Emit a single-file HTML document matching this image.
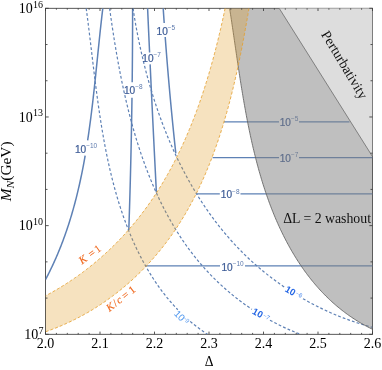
<!DOCTYPE html><html><head><meta charset="utf-8"><title>plot</title><style>html,body{margin:0;padding:0;background:#fff}svg{display:block}#w{width:382px;height:370px;will-change:transform;overflow:hidden}</style></head><body><div id="w"><svg width="382" height="370" viewBox="0 0 382 370">
<rect width="382" height="370" fill="#fff"/>
<clipPath id="c"><rect x="45.5" y="8.3" width="327.0" height="326.0"/></clipPath>
<rect x="45.5" y="8.3" width="327.0" height="326.0" fill="none" stroke="#3a3a3a" stroke-width="0.85"/>
<g clip-path="url(#c)">
<g fill="none" stroke="#5E81B5" stroke-width="1.5" stroke-linejoin="round">
<path d="M102.80,8.30 L102.65,9.55 L102.50,10.80 L102.35,12.06 L102.21,13.31 L102.06,14.56 L101.91,15.82 L101.77,17.08 L101.63,18.33 L101.49,19.59 L101.34,20.85 L101.20,22.10 L101.06,23.36 L100.92,24.62 L100.79,25.88 L100.65,27.14 L100.51,28.40 L100.37,29.66 L100.24,30.92 L100.10,32.19 L99.97,33.45 L99.84,34.71 L99.70,35.98 L99.57,37.24 L99.44,38.51 L99.30,39.77 L99.17,41.04 L99.04,42.30 L98.91,43.57 L98.78,44.83 L98.65,46.10 L98.52,47.37 L98.39,48.64 L98.26,49.90 L98.13,51.17 L98.00,52.44 L97.87,53.71 L97.74,54.98 L97.61,56.25 L97.48,57.52 L97.35,58.79 L97.22,60.06 L97.09,61.33 L96.96,62.60 L96.83,63.87 L96.70,65.14 L96.57,66.41 L96.44,67.69 L96.31,68.96 L96.18,70.23 L96.04,71.50 L95.91,72.77 L95.78,74.05 L95.65,75.32 L95.51,76.59 L95.38,77.86 L95.25,79.14 L95.11,80.41 L94.98,81.68 L94.84,82.96 L94.71,84.23 L94.57,85.50 L94.43,86.77 L94.29,88.05 L94.15,89.32 L94.01,90.59 L93.87,91.87 L93.73,93.14 L93.59,94.41 L93.45,95.69 L93.30,96.96 L93.16,98.23 L93.01,99.50 L92.87,100.78 L92.72,102.05 L92.57,103.32 L92.42,104.59 L92.27,105.87 L92.12,107.14 L91.96,108.41 L91.81,109.68 L91.65,110.95 L91.50,112.22 L91.34,113.49 L91.18,114.76 L91.02,116.03 L90.86,117.31 L90.69,118.58 L90.53,119.84 L90.36,121.11 L90.19,122.38 L90.02,123.65 L89.85,124.92 L89.68,126.19 L89.51,127.46 L89.33,128.72 L89.15,129.99 L88.97,131.26 L88.79,132.52 L88.61,133.79 L88.43,135.06 L88.24,136.32 L88.05,137.59 L87.86,138.85 L87.67,140.11 L87.64,140.30"/>
<path d="M85.15,155.60 L84.99,156.50 L84.77,157.76 L84.55,159.01 L84.32,160.27 L84.09,161.52 L83.86,162.77 L83.63,164.03 L83.40,165.28 L83.16,166.53 L82.92,167.78 L82.67,169.03 L82.43,170.28 L82.18,171.53 L81.93,172.78 L81.68,174.03 L81.42,175.28 L81.16,176.52 L80.90,177.77 L80.63,179.01 L80.37,180.26 L80.10,181.50 L79.82,182.74 L79.55,183.98 L79.27,185.22 L78.99,186.46 L78.70,187.70 L78.41,188.94 L78.12,190.18 L77.83,191.41 L77.53,192.65 L77.23,193.88 L76.93,195.11 L76.62,196.35 L76.31,197.58 L76.00,198.81 L75.68,200.04 L75.36,201.27 L75.04,202.49 L74.71,203.72 L74.38,204.95 L74.05,206.17 L73.71,207.39 L73.37,208.62 L73.03,209.84 L72.68,211.06 L72.33,212.28 L71.98,213.49 L71.62,214.71 L71.26,215.93 L70.89,217.14 L70.52,218.35 L70.15,219.57 L69.78,220.78 L69.40,221.99 L69.01,223.20 L68.62,224.40 L68.23,225.61 L67.84,226.82 L67.44,228.02 L67.03,229.22 L66.62,230.42 L66.21,231.62 L65.80,232.82 L65.38,234.02 L64.95,235.22 L64.52,236.41 L64.09,237.60 L63.66,238.80 L63.22,239.99 L62.77,241.18 L62.32,242.37 L61.87,243.55 L61.41,244.74 L60.95,245.92 L60.48,247.10 L60.01,248.29 L59.53,249.47 L59.05,250.64 L58.57,251.82 L58.08,253.00 L57.58,254.17 L57.09,255.34 L56.58,256.51 L56.08,257.68 L55.56,258.85 L55.05,260.02 L54.52,261.18 L54.00,262.34 L53.46,263.51 L52.93,264.67 L52.39,265.83 L51.84,266.98 L51.29,268.14 L50.73,269.29 L50.17,270.44 L49.61,271.59 L49.04,272.74 L48.46,273.89 L47.88,275.04 L47.29,276.18 L46.70,277.32 L46.10,278.46 L45.50,279.60"/>
<path d="M132.60,8.30 L132.60,9.31 L132.60,10.33 L132.60,11.34 L132.60,12.35 L132.60,13.36 L132.60,14.38 L132.60,15.39 L132.60,16.40 L132.59,17.41 L132.59,18.43 L132.59,19.44 L132.59,20.45 L132.59,21.46 L132.59,22.48 L132.58,23.49 L132.58,24.50 L132.58,25.51 L132.58,26.53 L132.57,27.54 L132.57,28.55 L132.57,29.56 L132.56,30.58 L132.56,31.59 L132.56,32.60 L132.55,33.61 L132.55,34.63 L132.54,35.64 L132.54,36.65 L132.54,37.66 L132.53,38.68 L132.53,39.69 L132.52,40.70 L132.52,41.71 L132.51,42.73 L132.50,43.74 L132.50,44.75 L132.49,45.76 L132.49,46.77 L132.48,47.79 L132.48,48.80 L132.47,49.81 L132.46,50.82 L132.46,51.84 L132.45,52.85 L132.44,53.86 L132.43,54.87 L132.43,55.89 L132.42,56.90 L132.41,57.91 L132.40,58.92 L132.40,59.94 L132.39,60.95 L132.38,61.96 L132.37,62.97 L132.36,63.99 L132.35,65.00 L132.35,66.01 L132.34,67.02 L132.33,68.04 L132.32,69.05 L132.31,70.06 L132.30,71.07 L132.29,72.09 L132.28,73.10 L132.27,74.11 L132.26,75.12 L132.25,76.14 L132.24,77.15 L132.23,78.16 L132.21,79.17 L132.20,80.19 L132.19,81.20 L132.18,82.21 L132.18,82.30"/>
<path d="M131.98,97.80 L131.98,98.41 L131.96,99.42 L131.95,100.43 L131.93,101.45 L131.92,102.46 L131.90,103.47 L131.89,104.48 L131.87,105.49 L131.86,106.51 L131.84,107.52 L131.83,108.53 L131.81,109.54 L131.80,110.56 L131.78,111.57 L131.76,112.58 L131.75,113.59 L131.73,114.61 L131.71,115.62 L131.70,116.63 L131.68,117.64 L131.66,118.65 L131.64,119.67 L131.63,120.68 L131.61,121.69 L131.59,122.70 L131.57,123.72 L131.56,124.73 L131.54,125.74 L131.52,126.75 L131.50,127.77 L131.48,128.78 L131.46,129.79 L131.44,130.80 L131.42,131.82 L131.40,132.83 L131.39,133.84 L131.37,134.85 L131.35,135.86 L131.33,136.88 L131.31,137.89 L131.28,138.90 L131.26,139.91 L131.24,140.93 L131.22,141.94 L131.20,142.95 L131.18,143.96 L131.16,144.97 L131.14,145.99 L131.12,147.00 L131.09,148.01 L131.07,149.02 L131.05,150.04 L131.03,151.05 L131.01,152.06 L130.98,153.07 L130.96,154.09 L130.94,155.10 L130.91,156.11 L130.89,157.12 L130.87,158.13 L130.84,159.15 L130.82,160.16 L130.80,161.17 L130.77,162.18 L130.75,163.20 L130.72,164.21 L130.70,165.22 L130.67,166.23 L130.65,167.24 L130.62,168.26 L130.60,169.27 L130.57,170.28 L130.55,171.29 L130.52,172.31 L130.50,173.32 L130.47,174.33 L130.45,175.34 L130.42,176.35 L130.39,177.37 L130.37,178.38 L130.34,179.39 L130.31,180.40 L130.29,181.42 L130.26,182.43 L130.23,183.44 L130.20,184.45 L130.18,185.46 L130.15,186.48 L130.12,187.49 L130.09,188.50 L130.06,189.51 L130.03,190.53 L130.01,191.54 L129.98,192.55 L129.95,193.56 L129.92,194.57 L129.89,195.59 L129.86,196.60 L129.83,197.61 L129.80,198.62 L129.77,199.64 L129.74,200.65 L129.71,201.66 L129.68,202.67 L129.65,203.68 L129.62,204.70 L129.59,205.71 L129.56,206.72 L129.53,207.73 L129.50,208.74 L129.46,209.76 L129.43,210.77 L129.40,211.78 L129.37,212.79 L129.34,213.81 L129.30,214.82 L129.27,215.83 L129.24,216.84 L129.21,217.85 L129.17,218.87 L129.14,219.88 L129.11,220.89 L129.07,221.90 L129.04,222.92 L129.01,223.93 L128.97,224.94 L128.94,225.95 L128.90,226.96 L128.87,227.98 L128.83,228.99 L128.80,230.00"/>
<path d="M147.60,8.30 L147.64,9.14 L147.67,9.98 L147.71,10.82 L147.75,11.66 L147.79,12.51 L147.82,13.35 L147.86,14.19 L147.90,15.03 L147.94,15.87 L147.97,16.71 L148.01,17.55 L148.05,18.39 L148.08,19.24 L148.12,20.08 L148.16,20.92 L148.20,21.76 L148.24,22.60 L148.27,23.44 L148.31,24.28 L148.35,25.12 L148.39,25.97 L148.42,26.81 L148.46,27.65 L148.50,28.49 L148.54,29.33 L148.57,30.17 L148.61,31.01 L148.65,31.85 L148.69,32.70 L148.73,33.54 L148.76,34.38 L148.80,35.22 L148.84,36.06 L148.88,36.90 L148.92,37.74 L148.95,38.58 L148.99,39.43 L149.03,40.27 L149.07,41.11 L149.11,41.95 L149.15,42.79 L149.18,43.63 L149.22,44.47 L149.26,45.31 L149.30,46.15 L149.34,47.00 L149.38,47.84 L149.41,48.68 L149.45,49.52 L149.49,50.36 L149.53,51.20 L149.57,52.04 L149.59,52.50"/>
<path d="M150.14,64.40 L150.15,64.66 L150.19,65.50 L150.23,66.34 L150.27,67.18 L150.31,68.02 L150.35,68.87 L150.38,69.71 L150.42,70.55 L150.46,71.39 L150.50,72.23 L150.54,73.07 L150.58,73.91 L150.62,74.75 L150.66,75.60 L150.70,76.44 L150.74,77.28 L150.78,78.12 L150.82,78.96 L150.86,79.80 L150.90,80.64 L150.94,81.48 L150.97,82.32 L151.01,83.17 L151.05,84.01 L151.09,84.85 L151.13,85.69 L151.17,86.53 L151.21,87.37 L151.25,88.21 L151.29,89.05 L151.33,89.89 L151.37,90.74 L151.41,91.58 L151.45,92.42 L151.49,93.26 L151.53,94.10 L151.57,94.94 L151.61,95.78 L151.65,96.62 L151.69,97.46 L151.73,98.31 L151.77,99.15 L151.81,99.99 L151.85,100.83 L151.89,101.67 L151.93,102.51 L151.97,103.35 L152.01,104.19 L152.05,105.03 L152.09,105.88 L152.13,106.72 L152.17,107.56 L152.22,108.40 L152.26,109.24 L152.30,110.08 L152.34,110.92 L152.38,111.76 L152.42,112.60 L152.46,113.45 L152.50,114.29 L152.54,115.13 L152.58,115.97 L152.62,116.81 L152.66,117.65 L152.70,118.49 L152.74,119.33 L152.78,120.17 L152.83,121.01 L152.87,121.86 L152.91,122.70 L152.95,123.54 L152.99,124.38 L153.03,125.22 L153.07,126.06 L153.11,126.90 L153.15,127.74 L153.19,128.58 L153.24,129.43 L153.28,130.27 L153.32,131.11 L153.36,131.95 L153.40,132.79 L153.44,133.63 L153.48,134.47 L153.52,135.31 L153.57,136.15 L153.61,136.99 L153.65,137.84 L153.69,138.68 L153.73,139.52 L153.77,140.36 L153.81,141.20 L153.86,142.04 L153.90,142.88 L153.94,143.72 L153.98,144.56 L154.02,145.40 L154.06,146.25 L154.11,147.09 L154.15,147.93 L154.19,148.77 L154.23,149.61 L154.27,150.45 L154.31,151.29 L154.36,152.13 L154.40,152.97 L154.44,153.82 L154.48,154.66 L154.52,155.50 L154.57,156.34 L154.61,157.18 L154.65,158.02 L154.69,158.86 L154.73,159.70 L154.78,160.54 L154.82,161.38 L154.86,162.23 L154.90,163.07 L154.95,163.91 L154.99,164.75 L155.03,165.59 L155.07,166.43 L155.12,167.27 L155.16,168.11 L155.20,168.95 L155.24,169.79 L155.29,170.63 L155.33,171.48 L155.37,172.32 L155.41,173.16 L155.46,174.00 L155.50,174.84 L155.54,175.68 L155.58,176.52 L155.63,177.36 L155.67,178.20 L155.71,179.04 L155.75,179.89 L155.80,180.73 L155.84,181.57 L155.88,182.41 L155.93,183.25 L155.97,184.09 L156.01,184.93 L156.05,185.77 L156.10,186.61 L156.14,187.45 L156.18,188.30 L156.23,189.14 L156.27,189.98 L156.31,190.82 L156.36,191.66 L156.40,192.50"/>
<path d="M163.20,8.30 L163.24,8.96 L163.29,9.63 L163.33,10.29 L163.38,10.95 L163.42,11.62 L163.46,12.28 L163.51,12.94 L163.55,13.61 L163.60,14.27 L163.64,14.93 L163.69,15.59 L163.73,16.26 L163.78,16.92 L163.82,17.58 L163.87,18.25 L163.91,18.91 L163.96,19.57 L164.01,20.24 L164.05,20.90 L164.10,21.56 L164.14,22.23 L164.19,22.89 L164.20,23.00"/>
<path d="M165.21,37.00 L165.24,37.47 L165.29,38.13 L165.34,38.80 L165.39,39.46 L165.44,40.12 L165.49,40.79 L165.54,41.45 L165.59,42.11 L165.64,42.77 L165.69,43.44 L165.74,44.10 L165.79,44.76 L165.84,45.42 L165.89,46.09 L165.94,46.75 L165.99,47.41 L166.04,48.07 L166.10,48.74 L166.15,49.40 L166.20,50.06 L166.25,50.72 L166.30,51.39 L166.35,52.05 L166.41,52.71 L166.46,53.38 L166.51,54.04 L166.56,54.70 L166.62,55.36 L166.67,56.03 L166.72,56.69 L166.77,57.35 L166.83,58.01 L166.88,58.67 L166.93,59.34 L166.99,60.00 L167.04,60.66 L167.09,61.32 L167.15,61.99 L167.20,62.65 L167.26,63.31 L167.31,63.97 L167.37,64.64 L167.42,65.30 L167.47,65.96 L167.53,66.62 L167.58,67.29 L167.64,67.95 L167.69,68.61 L167.75,69.27 L167.80,69.93 L167.86,70.60 L167.92,71.26 L167.97,71.92 L168.03,72.58 L168.08,73.25 L168.14,73.91 L168.20,74.57 L168.25,75.23 L168.31,75.89 L168.37,76.56 L168.42,77.22 L168.48,77.88 L168.54,78.54 L168.59,79.21 L168.65,79.87 L168.71,80.53 L168.77,81.19 L168.82,81.85 L168.88,82.52 L168.94,83.18 L169.00,83.84 L169.06,84.50 L169.11,85.16 L169.17,85.83 L169.23,86.49 L169.29,87.15 L169.35,87.81 L169.41,88.47 L169.47,89.14 L169.53,89.80 L169.58,90.46 L169.64,91.12 L169.70,91.78 L169.76,92.45 L169.82,93.11 L169.88,93.77 L169.94,94.43 L170.00,95.09 L170.06,95.76 L170.12,96.42 L170.18,97.08 L170.25,97.74 L170.31,98.40 L170.37,99.06 L170.43,99.73 L170.49,100.39 L170.55,101.05 L170.61,101.71 L170.67,102.37 L170.74,103.04 L170.80,103.70 L170.86,104.36 L170.92,105.02 L170.98,105.68 L171.05,106.34 L171.11,107.01 L171.17,107.67 L171.23,108.33 L171.30,108.99 L171.36,109.65 L171.42,110.31 L171.49,110.98 L171.55,111.64 L171.61,112.30 L171.68,112.96 L171.74,113.62 L171.80,114.28 L171.87,114.95 L171.93,115.61 L172.00,116.27 L172.06,116.93 L172.13,117.59 L172.19,118.25 L172.26,118.91 L172.32,119.58 L172.39,120.24 L172.45,120.90 L172.52,121.56 L172.58,122.22 L172.65,122.88 L172.71,123.55 L172.78,124.21 L172.84,124.87 L172.91,125.53 L172.98,126.19 L173.04,126.85 L173.11,127.51 L173.18,128.18 L173.24,128.84 L173.31,129.50 L173.38,130.16 L173.44,130.82 L173.51,131.48 L173.58,132.14 L173.65,132.80 L173.71,133.47 L173.78,134.13 L173.85,134.79 L173.92,135.45 L173.98,136.11 L174.05,136.77 L174.12,137.43 L174.19,138.09 L174.26,138.76 L174.33,139.42 L174.40,140.08 L174.46,140.74 L174.53,141.40 L174.60,142.06 L174.67,142.72 L174.74,143.38 L174.81,144.05 L174.88,144.71 L174.95,145.37 L175.02,146.03 L175.09,146.69 L175.16,147.35 L175.23,148.01 L175.30,148.67 L175.37,149.33 L175.44,149.99 L175.52,150.66 L175.59,151.32 L175.66,151.98 L175.73,152.64 L175.80,153.30"/>
</g>
<g fill="none" stroke="#5E81B5" stroke-width="1.15">
<path d="M223.9,121.8H279 M299,121.8H349.5"/>
<path d="M212.6,157.6H279 M299,157.6H372.5"/>
<path d="M196.6,193.9H219.8 M240.5,193.9H372.5"/>
<path d="M145,265.8H220 M245,265.8H372.5"/>
</g>
<g fill="none" stroke="#5E81B5" stroke-width="1.2" stroke-dasharray="2.8,2.1">
<path d="M86.20,8.30 L86.41,9.88 L86.62,11.46 L86.83,13.05 L87.04,14.63 L87.24,16.22 L87.45,17.81 L87.65,19.41 L87.86,21.00 L88.06,22.60 L88.26,24.20 L88.46,25.80 L88.65,27.40 L88.85,29.01 L89.05,30.61 L89.25,32.22 L89.44,33.83 L89.64,35.44 L89.83,37.05 L90.03,38.67 L90.22,40.28 L90.41,41.90 L90.61,43.52 L90.80,45.14 L90.99,46.76 L91.19,48.38 L91.38,50.01 L91.57,51.63 L91.77,53.26 L91.96,54.89 L92.15,56.51 L92.35,58.14 L92.54,59.77 L92.74,61.41 L92.93,63.04 L93.13,64.67 L93.32,66.31 L93.52,67.94 L93.72,69.58 L93.92,71.22 L94.12,72.85 L94.32,74.49 L94.52,76.13 L94.73,77.77 L94.93,79.41 L95.14,81.05 L95.34,82.69 L95.55,84.34 L95.76,85.98 L95.97,87.62 L96.19,89.26 L96.40,90.91 L96.62,92.55 L96.83,94.19 L97.05,95.84 L97.28,97.48 L97.50,99.12 L97.73,100.77 L97.95,102.41 L98.18,104.06 L98.41,105.70 L98.65,107.34 L98.89,108.99 L99.13,110.63 L99.37,112.27 L99.61,113.92 L99.86,115.56 L100.11,117.20 L100.36,118.84 L100.61,120.48 L100.87,122.12 L101.13,123.77 L101.40,125.41 L101.66,127.04 L101.93,128.68 L102.21,130.32 L102.48,131.96 L102.76,133.60 L103.05,135.23 L103.33,136.87 L103.62,138.50 L103.92,140.13 L104.21,141.77 L104.51,143.40 L104.82,145.03 L105.13,146.66 L105.44,148.28 L105.76,149.91 L106.08,151.54 L106.40,153.16 L106.73,154.78 L107.06,156.41 L107.40,158.03 L107.74,159.65 L108.09,161.26 L108.44,162.88 L108.79,164.50 L109.15,166.11 L109.51,167.72 L109.88,169.33 L110.26,170.94 L110.63,172.55 L111.02,174.15 L111.41,175.75 L111.80,177.36 L112.20,178.96 L112.60,180.55 L113.01,182.15 L113.43,183.74 L113.84,185.33 L114.27,186.92 L114.70,188.51 L115.14,190.10 L115.58,191.68 L116.03,193.26 L116.48,194.84 L116.94,196.42 L117.40,197.99 L117.87,199.56 L118.35,201.13 L118.83,202.70 L119.32,204.26 L119.82,205.83 L120.32,207.39 L120.83,208.94 L121.34,210.50 L121.86,212.05 L122.39,213.60 L122.92,215.14 L123.46,216.69 L124.01,218.23 L124.57,219.76 L125.13,221.30 L125.70,222.83 L126.27,224.36 L126.85,225.88 L127.44,227.41 L128.04,228.93 L128.64,230.44 L129.25,231.96 L129.87,233.47 L130.50,234.97 L131.13,236.47 L131.77,237.97 L132.42,239.47 L133.07,240.96 L133.74,242.45 L134.41,243.94 L135.09,245.42 L135.78,246.90 L136.47,248.38 L137.17,249.85 L137.89,251.31 L138.61,252.78 L139.33,254.24 L140.07,255.69 L140.82,257.14 L141.57,258.59 L142.33,260.03 L143.10,261.47 L143.88,262.90 L144.67,264.33 L145.46,265.75 L146.27,267.17 L147.08,268.58 L147.91,269.98 L148.74,271.39 L149.58,272.78 L150.43,274.17 L151.29,275.55 L152.16,276.93 L153.04,278.30 L153.93,279.66 L154.83,281.02 L155.73,282.37 L156.65,283.72 L157.58,285.05 L158.51,286.38 L159.46,287.71 L160.42,289.02 L161.38,290.33 L162.36,291.63 L163.34,292.93 L164.34,294.21 L165.35,295.49 L166.36,296.76 L167.39,298.03 L168.43,299.28 L169.47,300.52 L170.53,301.76 L171.60,302.99 L172.68,304.21 L173.77,305.42 L174.87,306.62 L175.98,307.81 L177.11,309.00 L177.80,309.71"/>
<path d="M190.20,321.37 L191.46,322.43 L192.73,323.48 L194.01,324.52 L195.30,325.55 L196.61,326.57 L197.93,327.58 L199.26,328.58 L200.60,329.56 L201.96,330.53 L203.32,331.49 L204.70,332.44 L206.10,333.38 L207.50,334.30"/>
<path d="M109.60,8.30 L109.84,10.04 L110.08,11.78 L110.33,13.53 L110.58,15.28 L110.83,17.03 L111.08,18.78 L111.33,20.54 L111.59,22.29 L111.85,24.06 L112.11,25.82 L112.37,27.58 L112.64,29.35 L112.91,31.12 L113.18,32.90 L113.46,34.67 L113.74,36.45 L114.02,38.22 L114.30,40.01 L114.59,41.79 L114.88,43.57 L115.18,45.36 L115.47,47.14 L115.77,48.93 L116.08,50.72 L116.39,52.51 L116.70,54.30 L117.01,56.10 L117.33,57.89 L117.65,59.68 L117.97,61.48 L118.30,63.28 L118.63,65.08 L118.97,66.87 L119.31,68.67 L119.65,70.47 L120.00,72.27 L120.35,74.07 L120.71,75.88 L121.07,77.68 L121.44,79.48 L121.80,81.28 L122.18,83.08 L122.55,84.88 L122.94,86.68 L123.32,88.49 L123.71,90.29 L124.11,92.09 L124.51,93.89 L124.91,95.69 L125.32,97.49 L125.74,99.29 L126.15,101.09 L126.58,102.88 L127.01,104.68 L127.44,106.48 L127.88,108.27 L128.32,110.06 L128.77,111.86 L129.23,113.65 L129.69,115.44 L130.15,117.23 L130.62,119.02 L131.10,120.80 L131.58,122.59 L132.06,124.37 L132.55,126.15 L133.05,127.93 L133.56,129.71 L134.07,131.48 L134.58,133.26 L135.10,135.03 L135.63,136.80 L136.16,138.56 L136.70,140.33 L137.24,142.09 L137.79,143.85 L138.35,145.61 L138.91,147.37 L139.48,149.12 L140.06,150.87 L140.64,152.62 L141.23,154.36 L141.83,156.10 L142.43,157.84 L143.04,159.57 L143.65,161.31 L144.27,163.04 L144.90,164.76 L145.54,166.48 L146.18,168.20 L146.83,169.92 L147.48,171.63 L148.15,173.34 L148.82,175.04 L149.49,176.74 L150.18,178.44 L150.87,180.13 L151.57,181.82 L152.27,183.50 L152.99,185.18 L153.71,186.86 L154.44,188.53 L155.17,190.20 L155.92,191.86 L156.67,193.52 L157.43,195.17 L158.19,196.82 L158.97,198.47 L159.75,200.11 L160.54,201.74 L161.34,203.37 L162.15,204.99 L162.96,206.61 L163.78,208.23 L164.61,209.84 L165.45,211.44 L166.30,213.04 L167.16,214.63 L168.02,216.22 L168.89,217.80 L169.77,219.37 L170.66,220.94 L171.56,222.51 L172.47,224.07 L173.39,225.62 L174.31,227.16 L175.24,228.70 L176.19,230.24 L177.14,231.77 L178.10,233.29 L179.07,234.80 L180.04,236.31 L181.03,237.81 L182.03,239.31 L183.04,240.79 L184.05,242.28 L185.08,243.75 L186.11,245.22 L187.15,246.68 L188.21,248.13 L189.27,249.58 L190.34,251.02 L191.42,252.45 L192.52,253.87 L193.62,255.29 L194.73,256.70 L195.85,258.10 L196.98,259.49 L198.12,260.88 L199.27,262.26 L200.44,263.63 L201.61,264.99 L202.79,266.35 L203.98,267.69 L205.18,269.03 L206.40,270.36 L207.62,271.68 L208.85,273.00 L210.09,274.30 L211.35,275.60 L212.61,276.88 L213.88,278.16 L215.16,279.43 L216.45,280.69 L217.75,281.95 L219.06,283.19 L220.38,284.42 L221.71,285.65 L223.05,286.86 L224.40,288.07 L225.76,289.27 L227.12,290.46 L228.50,291.63 L229.88,292.80 L231.27,293.96 L232.68,295.11 L234.09,296.25 L235.51,297.38 L236.93,298.50 L238.37,299.61 L239.82,300.71 L241.27,301.80 L242.73,302.88 L244.20,303.95 L245.68,305.01 L247.17,306.05 L248.67,307.09 L250.17,308.12 L251.68,309.14 L252.00,309.35"/>
<path d="M270.00,320.23 L270.43,320.47 L272.04,321.34 L273.66,322.20 L275.29,323.05 L276.92,323.89 L278.56,324.71 L280.21,325.52 L281.86,326.32 L283.53,327.11 L285.19,327.88 L286.87,328.65 L288.55,329.40 L290.24,330.14 L291.93,330.86 L293.63,331.57 L295.34,332.27 L297.05,332.96 L298.77,333.64 L300.50,334.30"/>
<path d="M133.00,8.30 L133.29,10.18 L133.59,12.07 L133.89,13.96 L134.20,15.84 L134.51,17.73 L134.83,19.62 L135.16,21.51 L135.49,23.40 L135.83,25.29 L136.17,27.18 L136.52,29.08 L136.88,30.97 L137.24,32.86 L137.60,34.75 L137.98,36.65 L138.36,38.54 L138.74,40.43 L139.13,42.32 L139.53,44.22 L139.93,46.11 L140.34,48.00 L140.76,49.89 L141.18,51.78 L141.61,53.68 L142.05,55.57 L142.49,57.46 L142.93,59.34 L143.39,61.23 L143.85,63.12 L144.32,65.01 L144.79,66.89 L145.27,68.78 L145.75,70.66 L146.25,72.54 L146.75,74.43 L147.25,76.30 L147.77,78.18 L148.29,80.06 L148.81,81.94 L149.34,83.81 L149.88,85.68 L150.43,87.55 L150.98,89.42 L151.54,91.29 L152.11,93.15 L152.68,95.02 L153.27,96.88 L153.85,98.74 L154.45,100.59 L155.05,102.45 L155.66,104.30 L156.27,106.15 L156.90,108.00 L157.53,109.84 L158.16,111.69 L158.81,113.52 L159.46,115.36 L160.12,117.20 L160.79,119.03 L161.46,120.86 L162.14,122.68 L162.83,124.50 L163.52,126.32 L164.23,128.14 L164.94,129.95 L165.66,131.76 L166.38,133.56 L167.11,135.37 L167.85,137.16 L168.60,138.96 L169.36,140.75 L170.12,142.54 L170.89,144.32 L171.67,146.10 L172.46,147.88 L173.25,149.65 L174.05,151.42 L174.86,153.18 L175.68,154.94 L176.51,156.70 L177.34,158.45 L178.18,160.19 L179.03,161.93 L179.89,163.67 L180.75,165.40 L181.63,167.13 L182.51,168.85 L183.40,170.57 L184.29,172.28 L185.20,173.99 L186.11,175.69 L187.04,177.39 L187.97,179.09 L188.91,180.77 L189.85,182.45 L190.81,184.13 L191.77,185.80 L192.74,187.47 L193.72,189.13 L194.71,190.78 L195.71,192.43 L196.72,194.07 L197.73,195.71 L198.75,197.34 L199.79,198.97 L200.83,200.58 L201.87,202.20 L202.93,203.80 L204.00,205.40 L205.07,207.00 L206.16,208.58 L207.25,210.16 L208.35,211.74 L209.46,213.31 L210.58,214.87 L211.71,216.42 L212.84,217.97 L213.99,219.51 L215.14,221.04 L216.31,222.57 L217.48,224.09 L218.66,225.60 L219.85,227.10 L221.05,228.60 L222.26,230.09 L223.48,231.57 L224.71,233.05 L225.94,234.51 L227.19,235.97 L228.45,237.43 L229.71,238.87 L230.98,240.31 L232.27,241.73 L233.56,243.15 L234.86,244.57 L236.17,245.97 L237.49,247.37 L238.83,248.75 L240.17,250.13 L241.52,251.50 L242.87,252.86 L244.24,254.22 L245.62,255.56 L247.01,256.90 L248.41,258.23 L249.82,259.55 L251.23,260.86 L252.66,262.16 L254.10,263.45 L255.55,264.73 L257.00,266.00 L258.47,267.27 L259.94,268.52 L261.42,269.77 L262.92,271.00 L264.42,272.23 L265.93,273.45 L267.45,274.65 L268.97,275.85 L270.51,277.04 L272.05,278.22 L273.61,279.38 L275.17,280.54 L276.74,281.69 L278.31,282.83 L279.90,283.96 L281.49,285.07 L283.09,286.18 L284.70,287.28 L285.00,287.48"/>
<path d="M303.00,298.71 L304.54,299.60 L306.24,300.55 L307.94,301.49 L309.65,302.43 L311.37,303.35 L313.09,304.25 L314.82,305.15 L316.55,306.04 L318.29,306.91 L320.03,307.77 L321.78,308.62 L323.53,309.46 L325.29,310.29 L327.06,311.10 L328.82,311.90 L330.60,312.69 L332.38,313.47 L334.16,314.23 L335.95,314.98 L337.74,315.72 L339.54,316.45 L341.34,317.16 L343.14,317.87 L344.95,318.55 L346.76,319.23 L348.58,319.89 L350.40,320.54 L352.23,321.18 L354.05,321.80 L355.88,322.41 L357.72,323.01 L359.56,323.59 L361.40,324.16 L363.24,324.72 L365.09,325.26 L366.94,325.79 L368.79,326.31 L370.64,326.81 L372.50,327.30"/>
</g>
<text transform="translate(86.1,152.8) rotate(0)" font-family="Liberation Sans, sans-serif" font-size="10.1" font-weight="normal" text-anchor="middle" fill="#3F5D97" fill-opacity="1" stroke="#3F5D97" stroke-width="0.22">10<tspan font-size="6.5" dy="-4.5" font-weight="normal" stroke="none" fill="#5C79AD">−10</tspan></text>
<text transform="translate(133.3,93.6) rotate(0)" font-family="Liberation Sans, sans-serif" font-size="10.1" font-weight="normal" text-anchor="middle" fill="#3F5D97" fill-opacity="1" stroke="#3F5D97" stroke-width="0.22">10<tspan font-size="6.5" dy="-4.5" font-weight="normal" stroke="none" fill="#5C79AD">−8</tspan></text>
<text transform="translate(151.6,61.5) rotate(0)" font-family="Liberation Sans, sans-serif" font-size="10.1" font-weight="normal" text-anchor="middle" fill="#3F5D97" fill-opacity="1" stroke="#3F5D97" stroke-width="0.22">10<tspan font-size="6.5" dy="-4.5" font-weight="normal" stroke="none" fill="#5C79AD">−7</tspan></text>
<text transform="translate(165.9,34.8) rotate(0)" font-family="Liberation Sans, sans-serif" font-size="10.1" font-weight="normal" text-anchor="middle" fill="#3F5D97" fill-opacity="1" stroke="#3F5D97" stroke-width="0.22">10<tspan font-size="6.5" dy="-4.5" font-weight="normal" stroke="none" fill="#5C79AD">−5</tspan></text>
<text transform="translate(289,125.6) rotate(0)" font-family="Liberation Sans, sans-serif" font-size="10.1" font-weight="normal" text-anchor="middle" fill="#3F5D97" fill-opacity="1" stroke="#3F5D97" stroke-width="0.22">10<tspan font-size="6.5" dy="-4.5" font-weight="normal" stroke="none" fill="#5C79AD">−5</tspan></text>
<text transform="translate(289,161.6) rotate(0)" font-family="Liberation Sans, sans-serif" font-size="10.1" font-weight="normal" text-anchor="middle" fill="#3F5D97" fill-opacity="1" stroke="#3F5D97" stroke-width="0.22">10<tspan font-size="6.5" dy="-4.5" font-weight="normal" stroke="none" fill="#5C79AD">−7</tspan></text>
<text transform="translate(230.2,198.4) rotate(0)" font-family="Liberation Sans, sans-serif" font-size="10.1" font-weight="normal" text-anchor="middle" fill="#3F5D97" fill-opacity="1" stroke="#3F5D97" stroke-width="0.22">10<tspan font-size="6.5" dy="-4.5" font-weight="normal" stroke="none" fill="#5C79AD">−8</tspan></text>
<text transform="translate(232.6,270.5) rotate(0)" font-family="Liberation Sans, sans-serif" font-size="10.1" font-weight="normal" text-anchor="middle" fill="#3F5D97" fill-opacity="1" stroke="#3F5D97" stroke-width="0.22">10<tspan font-size="6.5" dy="-4.5" font-weight="normal" stroke="none" fill="#5C79AD">−10</tspan></text>
<g transform="translate(290.4,290.6) rotate(30)" font-family="Liberation Sans, sans-serif" text-anchor="middle"><text x="0" y="3.37" font-size="9.4" font-weight="bold" fill="#2466E4" stroke="#2466E4" stroke-width="0">10</text><text x="9.4" y="1.05" font-size="6.0" fill="#4585EC">−6</text></g>
<g transform="translate(257.8,312.9) rotate(29)" font-family="Liberation Sans, sans-serif" text-anchor="middle"><text x="0" y="3.37" font-size="9.4" font-weight="bold" fill="#2466E4" stroke="#2466E4" stroke-width="0">10</text><text x="9.4" y="1.05" font-size="6.0" fill="#4585EC">−7</text></g>
<g transform="translate(179.6,315.6) rotate(45)" font-family="Liberation Sans, sans-serif" text-anchor="middle"><text x="0" y="3.44" font-size="9.6" font-weight="normal" fill="#4F97EE" stroke="#4F97EE" stroke-width="0">10</text><text x="7.4" y="0.15" font-size="6" fill="#5B9BEE">−9</text></g>
<path d="M229.60,8.30 L229.85,9.89 L230.09,11.47 L230.34,13.06 L230.58,14.66 L230.83,16.26 L231.07,17.86 L231.31,19.46 L231.55,21.07 L231.79,22.67 L232.03,24.29 L232.27,25.90 L232.51,27.52 L232.75,29.13 L232.99,30.76 L233.22,32.38 L233.46,34.01 L233.70,35.64 L233.94,37.27 L234.18,38.90 L234.41,40.53 L234.65,42.17 L234.89,43.81 L235.13,45.45 L235.37,47.09 L235.61,48.74 L235.85,50.39 L236.09,52.03 L236.33,53.68 L236.57,55.34 L236.82,56.99 L237.06,58.64 L237.31,60.30 L237.55,61.96 L237.80,63.62 L238.05,65.28 L238.30,66.94 L238.55,68.60 L238.80,70.26 L239.05,71.93 L239.31,73.59 L239.56,75.26 L239.82,76.93 L240.08,78.60 L240.34,80.27 L240.60,81.94 L240.87,83.61 L241.13,85.28 L241.40,86.95 L241.67,88.62 L241.95,90.29 L242.22,91.97 L242.50,93.64 L242.78,95.31 L243.06,96.99 L243.34,98.66 L243.63,100.34 L243.92,102.01 L244.21,103.68 L244.51,105.36 L244.80,107.03 L245.11,108.71 L245.41,110.38 L245.71,112.05 L246.02,113.72 L246.34,115.40 L246.65,117.07 L246.97,118.74 L247.29,120.41 L247.62,122.08 L247.95,123.75 L248.28,125.42 L248.62,127.09 L248.95,128.75 L249.30,130.42 L249.65,132.09 L250.00,133.75 L250.35,135.41 L250.71,137.08 L251.07,138.74 L251.44,140.40 L251.81,142.05 L252.19,143.71 L252.56,145.37 L252.95,147.02 L253.34,148.67 L253.73,150.32 L254.13,151.97 L254.53,153.62 L254.94,155.27 L255.35,156.91 L255.76,158.55 L256.18,160.19 L256.61,161.83 L257.04,163.47 L257.48,165.10 L257.92,166.73 L258.37,168.36 L258.82,169.99 L259.27,171.61 L259.74,173.24 L260.21,174.86 L260.68,176.48 L261.16,178.09 L261.64,179.70 L262.13,181.31 L262.63,182.92 L263.13,184.52 L263.64,186.13 L264.16,187.73 L264.68,189.32 L265.20,190.91 L265.73,192.50 L266.27,194.09 L266.82,195.67 L267.37,197.25 L267.93,198.83 L268.49,200.41 L269.07,201.98 L269.64,203.54 L270.23,205.11 L270.82,206.67 L271.42,208.22 L272.02,209.77 L272.64,211.32 L273.26,212.87 L273.88,214.41 L274.52,215.95 L275.16,217.48 L275.81,219.01 L276.46,220.53 L277.13,222.06 L277.80,223.57 L278.47,225.09 L279.16,226.59 L279.85,228.10 L280.56,229.60 L281.27,231.09 L281.98,232.58 L282.71,234.07 L283.44,235.55 L284.18,237.03 L284.93,238.50 L285.69,239.97 L286.46,241.43 L287.23,242.89 L288.02,244.34 L288.81,245.79 L289.61,247.23 L290.42,248.67 L291.23,250.10 L292.06,251.53 L292.90,252.95 L293.74,254.37 L294.59,255.78 L295.46,257.18 L296.33,258.58 L297.21,259.97 L298.10,261.36 L299.00,262.74 L299.91,264.11 L300.82,265.48 L301.75,266.84 L302.69,268.19 L303.64,269.54 L304.59,270.88 L305.56,272.21 L306.53,273.54 L307.52,274.85 L308.52,276.16 L309.52,277.47 L310.54,278.76 L311.57,280.05 L312.60,281.33 L313.65,282.60 L314.71,283.86 L315.77,285.11 L316.85,286.36 L317.94,287.60 L319.04,288.82 L320.15,290.04 L321.27,291.25 L322.40,292.45 L323.55,293.64 L324.70,294.83 L325.86,296.00 L327.04,297.16 L328.23,298.31 L329.42,299.46 L330.63,300.59 L331.85,301.71 L333.09,302.83 L334.33,303.93 L335.59,305.02 L336.85,306.10 L338.13,307.17 L339.42,308.23 L340.72,309.28 L342.04,310.32 L343.36,311.34 L344.70,312.36 L346.05,313.36 L347.42,314.35 L348.79,315.33 L350.18,316.30 L351.58,317.25 L352.99,318.20 L354.41,319.13 L355.85,320.05 L357.30,320.95 L358.76,321.85 L360.23,322.73 L361.72,323.60 L363.22,324.45 L364.74,325.29 L366.26,326.12 L367.80,326.94 L369.36,327.74 L370.92,328.53 L372.50,329.30 L372.50,8.30Z" fill="#808080" fill-opacity="0.5"/>
<path d="M229.60,8.30 L229.85,9.89 L230.09,11.47 L230.34,13.06 L230.58,14.66 L230.83,16.26 L231.07,17.86 L231.31,19.46 L231.55,21.07 L231.79,22.67 L232.03,24.29 L232.27,25.90 L232.51,27.52 L232.75,29.13 L232.99,30.76 L233.22,32.38 L233.46,34.01 L233.70,35.64 L233.94,37.27 L234.18,38.90 L234.41,40.53 L234.65,42.17 L234.89,43.81 L235.13,45.45 L235.37,47.09 L235.61,48.74 L235.85,50.39 L236.09,52.03 L236.33,53.68 L236.57,55.34 L236.82,56.99 L237.06,58.64 L237.31,60.30 L237.55,61.96 L237.80,63.62 L238.05,65.28 L238.30,66.94 L238.55,68.60 L238.80,70.26 L239.05,71.93 L239.31,73.59 L239.56,75.26 L239.82,76.93 L240.08,78.60 L240.34,80.27 L240.60,81.94 L240.87,83.61 L241.13,85.28 L241.40,86.95 L241.67,88.62 L241.95,90.29 L242.22,91.97 L242.50,93.64 L242.78,95.31 L243.06,96.99 L243.34,98.66 L243.63,100.34 L243.92,102.01 L244.21,103.68 L244.51,105.36 L244.80,107.03 L245.11,108.71 L245.41,110.38 L245.71,112.05 L246.02,113.72 L246.34,115.40 L246.65,117.07 L246.97,118.74 L247.29,120.41 L247.62,122.08 L247.95,123.75 L248.28,125.42 L248.62,127.09 L248.95,128.75 L249.30,130.42 L249.65,132.09 L250.00,133.75 L250.35,135.41 L250.71,137.08 L251.07,138.74 L251.44,140.40 L251.81,142.05 L252.19,143.71 L252.56,145.37 L252.95,147.02 L253.34,148.67 L253.73,150.32 L254.13,151.97 L254.53,153.62 L254.94,155.27 L255.35,156.91 L255.76,158.55 L256.18,160.19 L256.61,161.83 L257.04,163.47 L257.48,165.10 L257.92,166.73 L258.37,168.36 L258.82,169.99 L259.27,171.61 L259.74,173.24 L260.21,174.86 L260.68,176.48 L261.16,178.09 L261.64,179.70 L262.13,181.31 L262.63,182.92 L263.13,184.52 L263.64,186.13 L264.16,187.73 L264.68,189.32 L265.20,190.91 L265.73,192.50 L266.27,194.09 L266.82,195.67 L267.37,197.25 L267.93,198.83 L268.49,200.41 L269.07,201.98 L269.64,203.54 L270.23,205.11 L270.82,206.67 L271.42,208.22 L272.02,209.77 L272.64,211.32 L273.26,212.87 L273.88,214.41 L274.52,215.95 L275.16,217.48 L275.81,219.01 L276.46,220.53 L277.13,222.06 L277.80,223.57 L278.47,225.09 L279.16,226.59 L279.85,228.10 L280.56,229.60 L281.27,231.09 L281.98,232.58 L282.71,234.07 L283.44,235.55 L284.18,237.03 L284.93,238.50 L285.69,239.97 L286.46,241.43 L287.23,242.89 L288.02,244.34 L288.81,245.79 L289.61,247.23 L290.42,248.67 L291.23,250.10 L292.06,251.53 L292.90,252.95 L293.74,254.37 L294.59,255.78 L295.46,257.18 L296.33,258.58 L297.21,259.97 L298.10,261.36 L299.00,262.74 L299.91,264.11 L300.82,265.48 L301.75,266.84 L302.69,268.19 L303.64,269.54 L304.59,270.88 L305.56,272.21 L306.53,273.54 L307.52,274.85 L308.52,276.16 L309.52,277.47 L310.54,278.76 L311.57,280.05 L312.60,281.33 L313.65,282.60 L314.71,283.86 L315.77,285.11 L316.85,286.36 L317.94,287.60 L319.04,288.82 L320.15,290.04 L321.27,291.25 L322.40,292.45 L323.55,293.64 L324.70,294.83 L325.86,296.00 L327.04,297.16 L328.23,298.31 L329.42,299.46 L330.63,300.59 L331.85,301.71 L333.09,302.83 L334.33,303.93 L335.59,305.02 L336.85,306.10 L338.13,307.17 L339.42,308.23 L340.72,309.28 L342.04,310.32 L343.36,311.34 L344.70,312.36 L346.05,313.36 L347.42,314.35 L348.79,315.33 L350.18,316.30 L351.58,317.25 L352.99,318.20 L354.41,319.13 L355.85,320.05 L357.30,320.95 L358.76,321.85 L360.23,322.73 L361.72,323.60 L363.22,324.45 L364.74,325.29 L366.26,326.12 L367.80,326.94 L369.36,327.74 L370.92,328.53 L372.50,329.30" fill="none" stroke="#666" stroke-width="0.9"/>
<path d="M279.2,8.3 L372.5,8.3 L372.5,156.6Z" fill="#DDDDDD"/>
<path d="M279.2,8.3 L372.5,156.6" fill="none" stroke="#777" stroke-width="0.9"/>
<path d="M225.10,8.30 L224.78,9.85 L224.45,11.39 L224.12,12.94 L223.79,14.49 L223.46,16.03 L223.12,17.58 L222.79,19.13 L222.44,20.68 L222.10,22.23 L221.75,23.78 L221.40,25.34 L221.05,26.89 L220.70,28.44 L220.34,29.99 L219.97,31.55 L219.61,33.10 L219.24,34.65 L218.87,36.21 L218.50,37.76 L218.12,39.31 L217.74,40.87 L217.36,42.42 L216.97,43.98 L216.58,45.53 L216.19,47.08 L215.79,48.64 L215.39,50.19 L214.99,51.74 L214.58,53.30 L214.17,54.85 L213.76,56.40 L213.34,57.95 L212.92,59.50 L212.50,61.05 L212.07,62.60 L211.64,64.15 L211.21,65.70 L210.77,67.25 L210.32,68.80 L209.88,70.35 L209.43,71.89 L208.98,73.44 L208.52,74.98 L208.06,76.53 L207.59,78.07 L207.12,79.61 L206.65,81.15 L206.17,82.69 L205.69,84.23 L205.21,85.77 L204.72,87.30 L204.23,88.84 L203.73,90.37 L203.23,91.91 L202.72,93.44 L202.21,94.97 L201.70,96.49 L201.18,98.02 L200.66,99.55 L200.13,101.07 L199.60,102.59 L199.07,104.11 L198.53,105.63 L197.98,107.15 L197.43,108.67 L196.88,110.18 L196.32,111.69 L195.76,113.20 L195.19,114.71 L194.62,116.22 L194.04,117.72 L193.46,119.22 L192.88,120.72 L192.29,122.22 L191.69,123.72 L191.09,125.21 L190.49,126.70 L189.88,128.19 L189.26,129.68 L188.64,131.16 L188.02,132.64 L187.39,134.12 L186.75,135.60 L186.11,137.07 L185.47,138.55 L184.82,140.02 L184.17,141.48 L183.50,142.95 L182.84,144.41 L182.17,145.87 L181.49,147.32 L180.81,148.77 L180.13,150.22 L179.43,151.67 L178.74,153.12 L178.03,154.56 L177.33,155.99 L176.61,157.43 L175.89,158.86 L175.17,160.29 L174.44,161.72 L173.70,163.14 L172.96,164.56 L172.22,165.97 L171.46,167.38 L170.70,168.79 L169.94,170.20 L169.17,171.60 L168.39,173.00 L167.61,174.39 L166.83,175.78 L166.03,177.17 L165.23,178.55 L164.43,179.93 L163.62,181.31 L162.80,182.68 L161.98,184.05 L161.15,185.41 L160.31,186.77 L159.47,188.13 L158.62,189.48 L157.77,190.83 L156.91,192.17 L156.04,193.51 L155.17,194.85 L154.29,196.18 L153.41,197.51 L152.51,198.83 L151.62,200.15 L150.71,201.46 L149.80,202.77 L148.88,204.08 L147.96,205.38 L147.03,206.68 L146.09,207.97 L145.15,209.25 L144.20,210.54 L143.24,211.81 L142.28,213.09 L141.31,214.35 L140.33,215.62 L139.35,216.87 L138.36,218.13 L137.36,219.38 L136.36,220.62 L135.35,221.86 L134.33,223.09 L133.31,224.32 L132.28,225.54 L131.25,226.76 L130.21,227.97 L129.16,229.18 L128.10,230.38 L127.04,231.57 L125.98,232.76 L124.90,233.95 L123.82,235.13 L122.74,236.30 L121.65,237.47 L120.55,238.63 L119.45,239.79 L118.33,240.94 L117.22,242.09 L116.10,243.23 L114.97,244.36 L113.83,245.49 L112.69,246.61 L111.54,247.73 L110.39,248.84 L109.23,249.94 L108.07,251.04 L106.90,252.13 L105.72,253.22 L104.54,254.30 L103.35,255.37 L102.15,256.44 L100.95,257.50 L99.75,258.56 L98.53,259.60 L97.32,260.65 L96.09,261.68 L94.86,262.71 L93.63,263.73 L92.39,264.75 L91.14,265.76 L89.89,266.76 L88.63,267.75 L87.37,268.74 L86.10,269.72 L84.82,270.70 L83.54,271.67 L82.26,272.63 L80.96,273.58 L79.67,274.53 L78.36,275.47 L77.06,276.40 L75.74,277.33 L74.42,278.24 L73.10,279.16 L71.77,280.06 L70.43,280.96 L69.09,281.85 L67.75,282.73 L66.40,283.60 L65.04,284.47 L63.68,285.33 L62.31,286.18 L60.94,287.03 L59.56,287.86 L58.18,288.69 L56.79,289.51 L55.40,290.33 L54.00,291.13 L52.59,291.93 L51.18,292.72 L49.77,293.50 L48.35,294.28 L46.93,295.04 L45.50,295.80 L45.50,331.80 L47.27,331.18 L49.04,330.54 L50.80,329.90 L52.56,329.24 L54.31,328.56 L56.05,327.88 L57.78,327.18 L59.50,326.47 L61.22,325.74 L62.93,325.01 L64.64,324.26 L66.34,323.49 L68.02,322.72 L69.71,321.93 L71.38,321.14 L73.05,320.33 L74.71,319.50 L76.36,318.67 L78.01,317.82 L79.64,316.96 L81.27,316.09 L82.90,315.21 L84.51,314.32 L86.12,313.41 L87.72,312.50 L89.31,311.57 L90.89,310.63 L92.47,309.68 L94.04,308.72 L95.60,307.75 L97.15,306.76 L98.70,305.77 L100.23,304.76 L101.76,303.75 L103.28,302.72 L104.80,301.68 L106.30,300.64 L107.80,299.58 L109.29,298.51 L110.77,297.43 L112.24,296.34 L113.71,295.24 L115.16,294.13 L116.61,293.01 L118.05,291.88 L119.48,290.74 L120.91,289.59 L122.32,288.43 L123.73,287.26 L125.13,286.08 L126.52,284.89 L127.90,283.69 L129.27,282.49 L130.64,281.27 L132.00,280.04 L133.34,278.81 L134.68,277.56 L136.01,276.31 L137.34,275.05 L138.65,273.78 L139.95,272.50 L141.25,271.21 L142.54,269.91 L143.82,268.61 L145.09,267.29 L146.35,265.97 L147.60,264.64 L148.84,263.30 L150.08,261.95 L151.30,260.59 L152.52,259.23 L153.72,257.86 L154.92,256.48 L156.11,255.09 L157.29,253.69 L158.46,252.29 L159.62,250.88 L160.78,249.46 L161.92,248.03 L163.06,246.60 L164.18,245.16 L165.30,243.71 L166.40,242.25 L167.50,240.79 L168.59,239.32 L169.67,237.84 L170.74,236.36 L171.79,234.87 L172.84,233.37 L173.89,231.86 L174.92,230.35 L175.94,228.84 L176.95,227.31 L177.95,225.78 L178.95,224.25 L179.93,222.70 L180.90,221.15 L181.87,219.60 L182.82,218.04 L183.77,216.47 L184.71,214.90 L185.64,213.32 L186.56,211.73 L187.47,210.14 L188.37,208.55 L189.27,206.94 L190.15,205.34 L191.03,203.72 L191.90,202.11 L192.75,200.48 L193.61,198.85 L194.45,197.22 L195.28,195.58 L196.11,193.94 L196.93,192.29 L197.74,190.64 L198.54,188.98 L199.33,187.32 L200.12,185.65 L200.90,183.98 L201.67,182.30 L202.43,180.62 L203.18,178.94 L203.93,177.25 L204.67,175.56 L205.40,173.86 L206.13,172.16 L206.84,170.45 L207.55,168.74 L208.25,167.03 L208.95,165.32 L209.64,163.59 L210.32,161.87 L210.99,160.14 L211.66,158.41 L212.32,156.68 L212.97,154.94 L213.62,153.20 L214.26,151.46 L214.89,149.71 L215.52,147.96 L216.14,146.21 L216.75,144.45 L217.36,142.70 L217.96,140.94 L218.55,139.17 L219.14,137.41 L219.72,135.64 L220.30,133.87 L220.87,132.09 L221.43,130.32 L221.99,128.54 L222.54,126.76 L223.09,124.98 L223.63,123.20 L224.16,121.41 L224.69,119.62 L225.21,117.83 L225.73,116.04 L226.25,114.25 L226.75,112.46 L227.25,110.66 L227.75,108.86 L228.24,107.07 L228.73,105.27 L229.21,103.47 L229.68,101.66 L230.16,99.86 L230.62,98.06 L231.08,96.25 L231.54,94.45 L231.99,92.64 L232.44,90.84 L232.88,89.03 L233.32,87.22 L233.75,85.41 L234.18,83.61 L234.60,81.80 L235.02,79.99 L235.44,78.18 L235.85,76.37 L236.26,74.56 L236.66,72.75 L237.06,70.94 L237.46,69.13 L237.85,67.33 L238.24,65.52 L238.62,63.71 L239.00,61.90 L239.38,60.10 L239.75,58.29 L240.12,56.49 L240.49,54.68 L240.85,52.88 L241.21,51.08 L241.57,49.28 L241.92,47.48 L242.27,45.68 L242.62,43.88 L242.96,42.08 L243.30,40.29 L243.64,38.49 L243.98,36.70 L244.31,34.91 L244.64,33.12 L244.97,31.34 L245.29,29.55 L245.61,27.77 L245.93,25.99 L246.25,24.21 L246.56,22.43 L246.87,20.66 L247.18,18.88 L247.49,17.11 L247.80,15.35 L248.10,13.58 L248.40,11.82 L248.70,10.06 L249.00,8.30Z" fill="#E19C24" fill-opacity="0.29"/>
<g fill="none" stroke="#E5A030" stroke-width="0.85" stroke-dasharray="3,2">
<path d="M225.10,8.30 L224.78,9.85 L224.45,11.39 L224.12,12.94 L223.79,14.49 L223.46,16.03 L223.12,17.58 L222.79,19.13 L222.44,20.68 L222.10,22.23 L221.75,23.78 L221.40,25.34 L221.05,26.89 L220.70,28.44 L220.34,29.99 L219.97,31.55 L219.61,33.10 L219.24,34.65 L218.87,36.21 L218.50,37.76 L218.12,39.31 L217.74,40.87 L217.36,42.42 L216.97,43.98 L216.58,45.53 L216.19,47.08 L215.79,48.64 L215.39,50.19 L214.99,51.74 L214.58,53.30 L214.17,54.85 L213.76,56.40 L213.34,57.95 L212.92,59.50 L212.50,61.05 L212.07,62.60 L211.64,64.15 L211.21,65.70 L210.77,67.25 L210.32,68.80 L209.88,70.35 L209.43,71.89 L208.98,73.44 L208.52,74.98 L208.06,76.53 L207.59,78.07 L207.12,79.61 L206.65,81.15 L206.17,82.69 L205.69,84.23 L205.21,85.77 L204.72,87.30 L204.23,88.84 L203.73,90.37 L203.23,91.91 L202.72,93.44 L202.21,94.97 L201.70,96.49 L201.18,98.02 L200.66,99.55 L200.13,101.07 L199.60,102.59 L199.07,104.11 L198.53,105.63 L197.98,107.15 L197.43,108.67 L196.88,110.18 L196.32,111.69 L195.76,113.20 L195.19,114.71 L194.62,116.22 L194.04,117.72 L193.46,119.22 L192.88,120.72 L192.29,122.22 L191.69,123.72 L191.09,125.21 L190.49,126.70 L189.88,128.19 L189.26,129.68 L188.64,131.16 L188.02,132.64 L187.39,134.12 L186.75,135.60 L186.11,137.07 L185.47,138.55 L184.82,140.02 L184.17,141.48 L183.50,142.95 L182.84,144.41 L182.17,145.87 L181.49,147.32 L180.81,148.77 L180.13,150.22 L179.43,151.67 L178.74,153.12 L178.03,154.56 L177.33,155.99 L176.61,157.43 L175.89,158.86 L175.17,160.29 L174.44,161.72 L173.70,163.14 L172.96,164.56 L172.22,165.97 L171.46,167.38 L170.70,168.79 L169.94,170.20 L169.17,171.60 L168.39,173.00 L167.61,174.39 L166.83,175.78 L166.03,177.17 L165.23,178.55 L164.43,179.93 L163.62,181.31 L162.80,182.68 L161.98,184.05 L161.15,185.41 L160.31,186.77 L159.47,188.13 L158.62,189.48 L157.77,190.83 L156.91,192.17 L156.04,193.51 L155.17,194.85 L154.29,196.18 L153.41,197.51 L152.51,198.83 L151.62,200.15 L150.71,201.46 L149.80,202.77 L148.88,204.08 L147.96,205.38 L147.03,206.68 L146.09,207.97 L145.15,209.25 L144.20,210.54 L143.24,211.81 L142.28,213.09 L141.31,214.35 L140.33,215.62 L139.35,216.87 L138.36,218.13 L137.36,219.38 L136.36,220.62 L135.35,221.86 L134.33,223.09 L133.31,224.32 L132.28,225.54 L131.25,226.76 L130.21,227.97 L129.16,229.18 L128.10,230.38 L127.04,231.57 L125.98,232.76 L124.90,233.95 L123.82,235.13 L122.74,236.30 L121.65,237.47 L120.55,238.63 L119.45,239.79 L118.33,240.94 L117.22,242.09 L116.10,243.23 L114.97,244.36 L113.83,245.49 L112.69,246.61 L111.54,247.73 L110.39,248.84 L109.23,249.94 L108.07,251.04 L106.90,252.13 L105.72,253.22 L104.54,254.30 L103.35,255.37 L102.15,256.44 L100.95,257.50 L99.75,258.56 L98.53,259.60 L97.32,260.65 L96.09,261.68 L94.86,262.71 L93.63,263.73 L92.39,264.75 L91.14,265.76 L89.89,266.76 L88.63,267.75 L87.37,268.74 L86.10,269.72 L84.82,270.70 L83.54,271.67 L82.26,272.63 L80.96,273.58 L79.67,274.53 L78.36,275.47 L77.06,276.40 L75.74,277.33 L74.42,278.24 L73.10,279.16 L71.77,280.06 L70.43,280.96 L69.09,281.85 L67.75,282.73 L66.40,283.60 L65.04,284.47 L63.68,285.33 L62.31,286.18 L60.94,287.03 L59.56,287.86 L58.18,288.69 L56.79,289.51 L55.40,290.33 L54.00,291.13 L52.59,291.93 L51.18,292.72 L49.77,293.50 L48.35,294.28 L46.93,295.04 L45.50,295.80"/><path d="M249.00,8.30 L248.70,10.06 L248.40,11.82 L248.10,13.58 L247.80,15.35 L247.49,17.11 L247.18,18.88 L246.87,20.66 L246.56,22.43 L246.25,24.21 L245.93,25.99 L245.61,27.77 L245.29,29.55 L244.97,31.34 L244.64,33.12 L244.31,34.91 L243.98,36.70 L243.64,38.49 L243.30,40.29 L242.96,42.08 L242.62,43.88 L242.27,45.68 L241.92,47.48 L241.57,49.28 L241.21,51.08 L240.85,52.88 L240.49,54.68 L240.12,56.49 L239.75,58.29 L239.38,60.10 L239.00,61.90 L238.62,63.71 L238.24,65.52 L237.85,67.33 L237.46,69.13 L237.06,70.94 L236.66,72.75 L236.26,74.56 L235.85,76.37 L235.44,78.18 L235.02,79.99 L234.60,81.80 L234.18,83.61 L233.75,85.41 L233.32,87.22 L232.88,89.03 L232.44,90.84 L231.99,92.64 L231.54,94.45 L231.08,96.25 L230.62,98.06 L230.16,99.86 L229.68,101.66 L229.21,103.47 L228.73,105.27 L228.24,107.07 L227.75,108.86 L227.25,110.66 L226.75,112.46 L226.25,114.25 L225.73,116.04 L225.21,117.83 L224.69,119.62 L224.16,121.41 L223.63,123.20 L223.09,124.98 L222.54,126.76 L221.99,128.54 L221.43,130.32 L220.87,132.09 L220.30,133.87 L219.72,135.64 L219.14,137.41 L218.55,139.17 L217.96,140.94 L217.36,142.70 L216.75,144.45 L216.14,146.21 L215.52,147.96 L214.89,149.71 L214.26,151.46 L213.62,153.20 L212.97,154.94 L212.32,156.68 L211.66,158.41 L210.99,160.14 L210.32,161.87 L209.64,163.59 L208.95,165.32 L208.25,167.03 L207.55,168.74 L206.84,170.45 L206.13,172.16 L205.40,173.86 L204.67,175.56 L203.93,177.25 L203.18,178.94 L202.43,180.62 L201.67,182.30 L200.90,183.98 L200.12,185.65 L199.33,187.32 L198.54,188.98 L197.74,190.64 L196.93,192.29 L196.11,193.94 L195.28,195.58 L194.45,197.22 L193.61,198.85 L192.75,200.48 L191.90,202.11 L191.03,203.72 L190.15,205.34 L189.27,206.94 L188.37,208.55 L187.47,210.14 L186.56,211.73 L185.64,213.32 L184.71,214.90 L183.77,216.47 L182.82,218.04 L181.87,219.60 L180.90,221.15 L179.93,222.70 L178.95,224.25 L177.95,225.78 L176.95,227.31 L175.94,228.84 L174.92,230.35 L173.89,231.86 L172.84,233.37 L171.79,234.87 L170.74,236.36 L169.67,237.84 L168.59,239.32 L167.50,240.79 L166.40,242.25 L165.30,243.71 L164.18,245.16 L163.06,246.60 L161.92,248.03 L160.78,249.46 L159.62,250.88 L158.46,252.29 L157.29,253.69 L156.11,255.09 L154.92,256.48 L153.72,257.86 L152.52,259.23 L151.30,260.59 L150.08,261.95 L148.84,263.30 L147.60,264.64 L146.35,265.97 L145.09,267.29 L143.82,268.61 L142.54,269.91 L141.25,271.21 L139.95,272.50 L138.65,273.78 L137.34,275.05 L136.01,276.31 L134.68,277.56 L133.34,278.81 L132.00,280.04 L130.64,281.27 L129.27,282.49 L127.90,283.69 L126.52,284.89 L125.13,286.08 L123.73,287.26 L122.32,288.43 L120.91,289.59 L119.48,290.74 L118.05,291.88 L116.61,293.01 L115.16,294.13 L113.71,295.24 L112.24,296.34 L110.77,297.43 L109.29,298.51 L107.80,299.58 L106.30,300.64 L104.80,301.68 L103.28,302.72 L101.76,303.75 L100.23,304.76 L98.70,305.77 L97.15,306.76 L95.60,307.75 L94.04,308.72 L92.47,309.68 L90.89,310.63 L89.31,311.57 L87.72,312.50 L86.12,313.41 L84.51,314.32 L82.90,315.21 L81.27,316.09 L79.64,316.96 L78.01,317.82 L76.36,318.67 L74.71,319.50 L73.05,320.33 L71.38,321.14 L69.71,321.93 L68.02,322.72 L66.34,323.49 L64.64,324.26 L62.93,325.01 L61.22,325.74 L59.50,326.47 L57.78,327.18 L56.05,327.88 L54.31,328.56 L52.56,329.24 L50.80,329.90 L49.04,330.54 L47.27,331.18 L45.50,331.80"/>
</g>
</g>
<path d="M45.50,334.3v-2.7 M45.50,8.3v2.7 M56.40,334.3v-1.4 M56.40,8.3v1.4 M67.30,334.3v-1.4 M67.30,8.3v1.4 M78.20,334.3v-1.4 M78.20,8.3v1.4 M89.10,334.3v-1.4 M89.10,8.3v1.4 M100.00,334.3v-2.7 M100.00,8.3v2.7 M110.90,334.3v-1.4 M110.90,8.3v1.4 M121.80,334.3v-1.4 M121.80,8.3v1.4 M132.70,334.3v-1.4 M132.70,8.3v1.4 M143.60,334.3v-1.4 M143.60,8.3v1.4 M154.50,334.3v-2.7 M154.50,8.3v2.7 M165.40,334.3v-1.4 M165.40,8.3v1.4 M176.30,334.3v-1.4 M176.30,8.3v1.4 M187.20,334.3v-1.4 M187.20,8.3v1.4 M198.10,334.3v-1.4 M198.10,8.3v1.4 M209.00,334.3v-2.7 M209.00,8.3v2.7 M219.90,334.3v-1.4 M219.90,8.3v1.4 M230.80,334.3v-1.4 M230.80,8.3v1.4 M241.70,334.3v-1.4 M241.70,8.3v1.4 M252.60,334.3v-1.4 M252.60,8.3v1.4 M263.50,334.3v-2.7 M263.50,8.3v2.7 M274.40,334.3v-1.4 M274.40,8.3v1.4 M285.30,334.3v-1.4 M285.30,8.3v1.4 M296.20,334.3v-1.4 M296.20,8.3v1.4 M307.10,334.3v-1.4 M307.10,8.3v1.4 M318.00,334.3v-2.7 M318.00,8.3v2.7 M328.90,334.3v-1.4 M328.90,8.3v1.4 M339.80,334.3v-1.4 M339.80,8.3v1.4 M350.70,334.3v-1.4 M350.70,8.3v1.4 M361.60,334.3v-1.4 M361.60,8.3v1.4 M372.50,334.3v-2.7 M372.50,8.3v2.7 M45.5,334.30h3.2 M372.5,334.30h-3.2 M45.5,298.08h2.0 M372.5,298.08h-2.0 M45.5,261.86h2.0 M372.5,261.86h-2.0 M45.5,225.63h3.2 M372.5,225.63h-3.2 M45.5,189.41h2.0 M372.5,189.41h-2.0 M45.5,153.19h2.0 M372.5,153.19h-2.0 M45.5,116.97h3.2 M372.5,116.97h-3.2 M45.5,80.74h2.0 M372.5,80.74h-2.0 M45.5,44.52h2.0 M372.5,44.52h-2.0 M45.5,8.30h3.2 M372.5,8.30h-3.2" fill="none" stroke="#3a3a3a" stroke-width="0.85"/>
<text x="45.5" y="348" font-family="Liberation Serif, serif" font-size="14" text-anchor="middle" fill="#000">2.0</text>
<text x="100.0" y="348" font-family="Liberation Serif, serif" font-size="14" text-anchor="middle" fill="#000">2.1</text>
<text x="154.5" y="348" font-family="Liberation Serif, serif" font-size="14" text-anchor="middle" fill="#000">2.2</text>
<text x="209.0" y="348" font-family="Liberation Serif, serif" font-size="14" text-anchor="middle" fill="#000">2.3</text>
<text x="263.5" y="348" font-family="Liberation Serif, serif" font-size="14" text-anchor="middle" fill="#000">2.4</text>
<text x="318.0" y="348" font-family="Liberation Serif, serif" font-size="14" text-anchor="middle" fill="#000">2.5</text>
<text x="372.5" y="348" font-family="Liberation Serif, serif" font-size="14" text-anchor="middle" fill="#000">2.6</text>
<text x="209.2" y="365.5" font-family="Liberation Serif, serif" font-size="13.6" text-anchor="middle" fill="#000">Δ</text>
<text x="32.8" y="12.8" font-family="Liberation Serif, serif" font-size="14" text-anchor="end" fill="#000">10</text>
<text x="32.9" y="7.6" font-family="Liberation Serif, serif" font-size="10" fill="#000">16</text>
<text x="32.8" y="121.5" font-family="Liberation Serif, serif" font-size="14" text-anchor="end" fill="#000">10</text>
<text x="32.9" y="116.3" font-family="Liberation Serif, serif" font-size="10" fill="#000">13</text>
<text x="32.8" y="230.1" font-family="Liberation Serif, serif" font-size="14" text-anchor="end" fill="#000">10</text>
<text x="32.9" y="224.9" font-family="Liberation Serif, serif" font-size="10" fill="#000">10</text>
<text x="38.3" y="338.8" font-family="Liberation Serif, serif" font-size="14" text-anchor="end" fill="#000">10</text>
<text x="38.6" y="333.6" font-family="Liberation Serif, serif" font-size="10" fill="#000">7</text>
<text transform="translate(10.7,201.3) rotate(-90) scale(1.1,1)" font-family="Liberation Serif, serif" font-size="14" fill="#000"><tspan font-style="italic">M</tspan><tspan font-style="italic" font-size="10.6" dy="3">N</tspan><tspan dy="-3">(GeV)</tspan></text>
<text x="371" y="223" font-family="Liberation Serif, serif" font-size="13.8" text-anchor="end" fill="#111">ΔL = 2 washout</text>
<text transform="translate(320.8,34.2) rotate(59)" font-family="Liberation Serif, serif" font-size="14" fill="#111">Perturbativity</text>
<text transform="translate(82,264.5) rotate(-36)" font-family="Liberation Serif, serif" font-size="10.8" fill="#F0691F" stroke="#F0691F" stroke-width="0.15" ><tspan font-style="italic">K</tspan><tspan dx="4.2">=</tspan><tspan dx="1.8">1</tspan></text>
<text transform="translate(109.5,311.9) rotate(-38)" font-family="Liberation Serif, serif" font-size="10.8" fill="#F0691F" stroke="#F0691F" stroke-width="0.15" word-spacing="-0.1"><tspan font-style="italic">K</tspan><tspan dx="1.2">/</tspan><tspan font-style="italic" dx="1">c</tspan> = 1</text>
</svg></div></body></html>
